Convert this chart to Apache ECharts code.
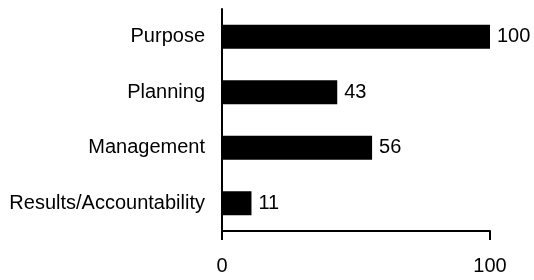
<!DOCTYPE html>
<html>
<head>
<meta charset="utf-8">
<script src="https://cdn.jsdelivr.net/npm/echarts@6/dist/echarts.min.js"></script>
<style>
    html,body{margin:0;padding:0;background:#fff;}
    #barChart{width:534px;height:280px;}
</style>
</head>
<body>
<div id="barChart"></div>
<script>
    var categories = ['Purpose', 'Planning', 'Management', 'Results/Accountability']
    var values = [100, 43, 56, 11]
    var xTicks = [0, 100]

    var font = '"Liberation Sans", Arial, sans-serif'
    var fs = 20
    var myChart = echarts.init(document.getElementById('barChart'))
    var option = {
        animation: false,
        grid: {
            left: 222,
            right: 44,
            top: 9,
            bottom: 49,
            outerBoundsMode: 'none'
        },
        xAxis: {
            type: 'value',
            min: xTicks[0],
            max: xTicks[xTicks.length - 1],
            interval: xTicks[1] - xTicks[0],
            axisLine: {
                show: true,
                lineStyle: { color: '#000', width: 2 }
            },
            axisTick: {
                show: true,
                length: 9,
                lineStyle: { color: '#000', width: 2 }
            },
            axisLabel: {
                color: '#000',
                fontSize: fs,
                fontFamily: font,
                margin: 25
            },
            splitLine: { show: false }
        },
        yAxis: {
            type: 'category',
            data: categories,
            inverse: true,
            axisLine: {
                show: true,
                lineStyle: { color: '#000', width: 2 }
            },
            axisTick: { show: false },
            axisLabel: {
                color: '#000',
                fontSize: fs,
                fontFamily: font,
                margin: 17
            }
        },
        series: [{
            type: 'bar',
            data: values,
            barWidth: 24,
            itemStyle: { color: '#000' },
            label: {
                show: true,
                position: 'right',
                distance: 7,
                color: '#000',
                fontSize: fs,
                fontFamily: font
            }
        }]
    }
    myChart.setOption(option)
</script>
</body>
</html>
